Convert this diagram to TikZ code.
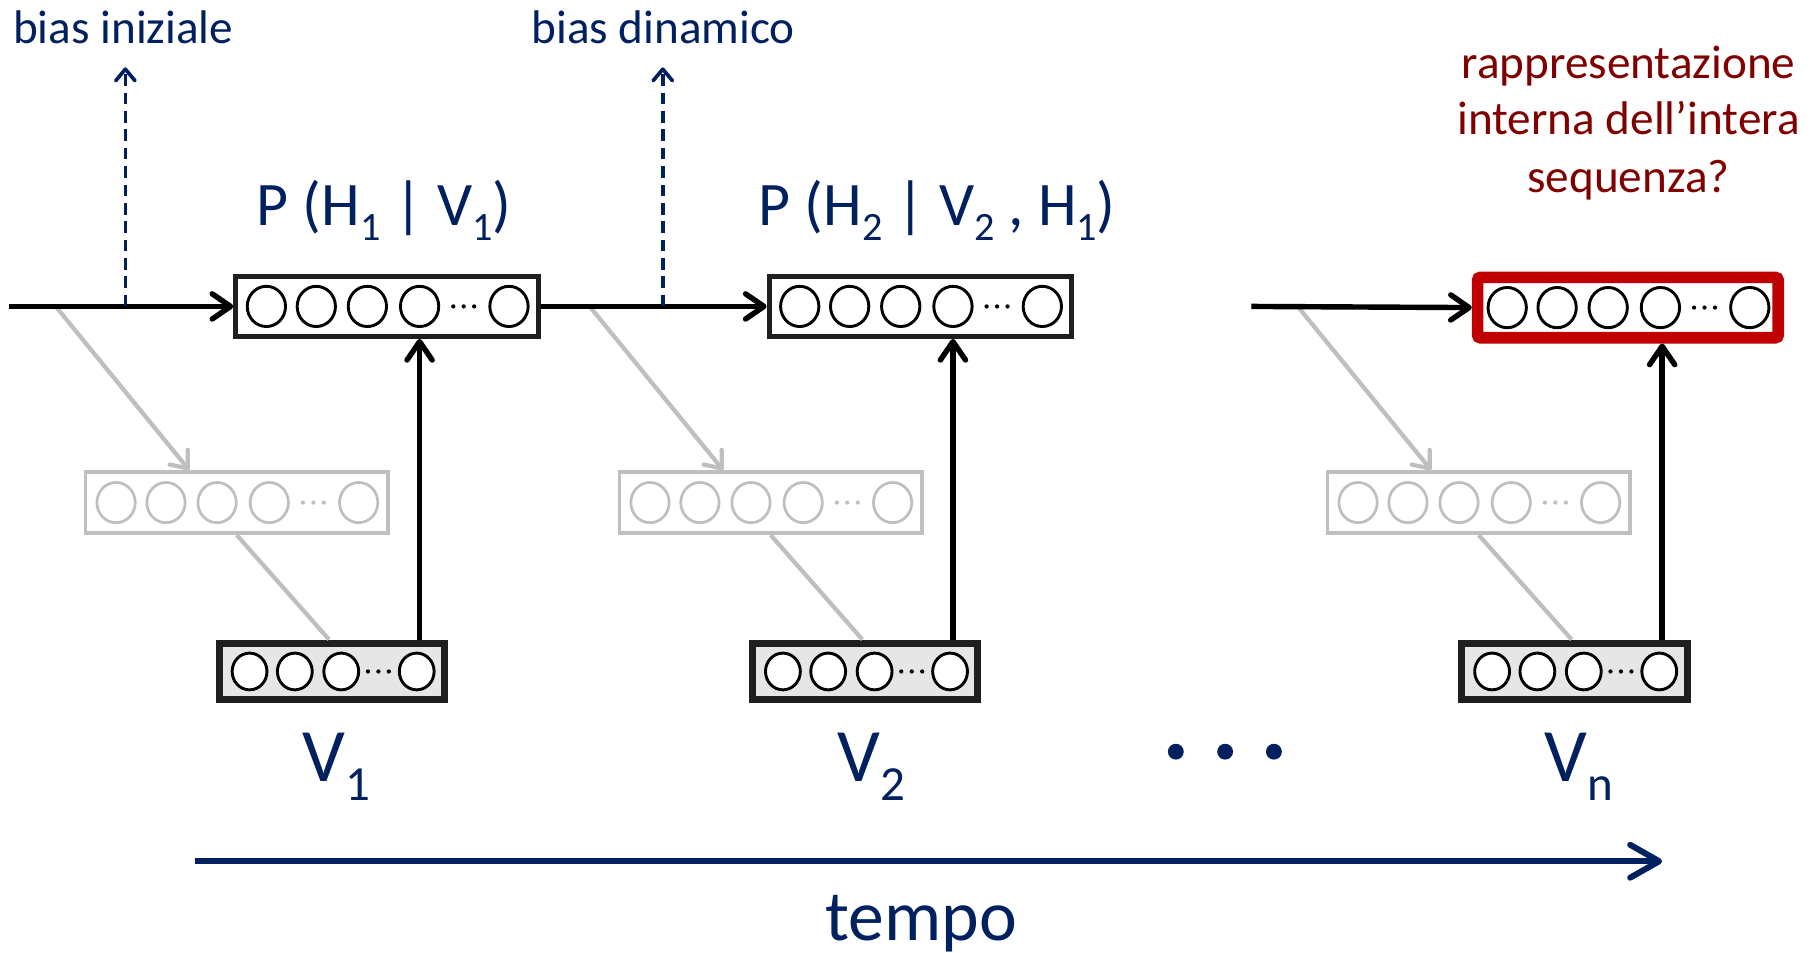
\documentclass[tikz,border=0pt]{standalone}
\usepackage{fontspec}
\setmainfont{Carlito}
\usetikzlibrary{arrows.meta,calc}
\definecolor{navy}{HTML}{002060}
\definecolor{dred}{HTML}{800000}
\definecolor{boxred}{HTML}{C00000}
\definecolor{lgray}{HTML}{BFBFBF}
\definecolor{vfill}{HTML}{E6E6E6}
\definecolor{dark}{HTML}{1F1F1F}
\newcommand\lsub[1]{\raisebox{-0.25em}{\scalebox{0.65}{#1}}}
\begin{document}
\begin{tikzpicture}[x=0.6pt,y=-0.6pt,
  hbox/.style={draw=dark,line width=2.6pt,fill=white,minimum width=156.4pt,minimum height=31pt,inner sep=0pt},
  gbox/.style={draw=lgray,line width=2pt,fill=white,minimum width=156.4pt,minimum height=31.6pt,inner sep=0pt},
  vbox/.style={draw=dark,line width=3.6pt,fill=vfill,minimum width=116.4pt,minimum height=29.4pt,inner sep=0pt},
  redbox/.style={draw=boxred,line width=6pt,fill=white,rounded corners=1.5pt,minimum width=155.4pt,minimum height=31.2pt,inner sep=0pt},
  hcirc/.style={draw=black,line width=1.5pt,fill=white},
  gcirc/.style={draw=lgray,line width=1.4pt,fill=white},
  blk/.style={draw=black,line width=2.8pt,-{Straight Barb[length=9.5pt,width=13pt,round]}},
  grayarr/.style={draw=lgray,line width=2.2pt,-{Straight Barb[length=7.5pt,width=12pt,round]}},
  grayln/.style={draw=lgray,line width=2.2pt},
  dasharr/.style={draw=navy,line width=1.9pt,dash pattern=on 6pt off 3.5pt,-{Straight Barb[length=6pt,width=10pt,round]}},
  timearr/.style={draw=navy,line width=3.1pt,-{Straight Barb[length=15pt,width=17pt,round]}},
  lbl/.style={text=navy,inner sep=0pt,font=\fontsize{24.4}{29}\selectfont},
  plbl/.style={text=navy,inner sep=0pt,font=\fontsize{32}{38}\selectfont},
  rlbl/.style={text=dred,inner sep=0pt,font=\fontsize{24.4}{29}\selectfont},
  vlbl/.style={text=navy,inner sep=0pt,font=\fontsize{39}{46}\selectfont},
  tlbl/.style={text=navy,inner sep=0pt,font=\fontsize{37}{44}\selectfont}
]
\useasboundingbox (0,0) rectangle (1568,821);

% layer boxes
\node[hbox] (h1) at (333.5,264) {};
\node[hbox] (h2) at (793,264) {};
\node[redbox] (hn) at (1402.5,265) {};
\node[gbox] (g1) at (204,433) {};
\node[gbox] (g2) at (664,433) {};
\node[gbox] (g3) at (1274,433) {};
\node[vbox] (v1) at (286,578.5) {};
\node[vbox] (v2) at (745.5,578.5) {};
\node[vbox] (vn) at (1356.5,578.5) {};

% units
\foreach \n in {h1,h2,hn}{
  \foreach \dx in {-104,-61,-17,28,105}
    \draw[hcirc] ([xshift=\dx*0.6pt]\n.center) ellipse [x radius=9.9pt,y radius=10.4pt];
  \foreach \dx in {57,66,75}
    \fill[black] ([xshift=\dx*0.6pt]\n.center) circle [radius=1.1pt];
}
\foreach \n in {g1,g2,g3}{
  \foreach \dx in {-104,-61,-17,28,105}
    \draw[gcirc] ([xshift=\dx*0.6pt]\n.center) ellipse [x radius=9.9pt,y radius=10.4pt];
  \foreach \dx in {57,66,75}
    \fill[lgray] ([xshift=\dx*0.6pt]\n.center) circle [radius=1.1pt];
}
\foreach \n in {v1,v2,vn}{
  \foreach \dx in {-71,-32,8,73}
    \draw[hcirc] ([xshift=\dx*0.6pt]\n.center) ellipse [x radius=9pt,y radius=9.5pt];
  \foreach \dx in {31,40,49}
    \fill[black] ([xshift=\dx*0.6pt]\n.center) circle [radius=1.1pt];
}

% free ends
\coordinate (s1) at (8,264);
\coordinate (ga1) at (48,264);
\coordinate (db1) at (108,264);
\coordinate (dt1) at (108,58);
\coordinate (ga2) at (508,264);
\coordinate (db2) at (571,264);
\coordinate (dt2) at (571,58);
\coordinate (s3) at (1078,264);
\coordinate (ga3) at (1118,264);
\coordinate (ts) at (168,742);
\coordinate (te) at (1432,742);

% gray connectors
\draw[grayarr] (ga1) -- ([xshift=-24.6pt]g1.north);
\draw[grayarr] (ga2) -- ([xshift=-24.6pt]g2.north);
\draw[grayarr] (ga3) -- ([xshift=-24.6pt]g3.north);
\draw[grayln] (g1.south) -- ([xshift=-1.5pt]v1.north);
\draw[grayln] (g2.south) -- ([xshift=-1.5pt]v2.north);
\draw[grayln] (g3.south) -- ([xshift=-1.5pt]vn.north);

% black connectors
\draw[blk] (s1) -- (h1.west);
\draw[blk] (h1.east) -- (h2.west);
\draw[blk] (s3) -- (hn.west);
\draw[blk] ([xshift=45.3pt]v1.north) -- ([xshift=45.3pt]v1.north |- h1.south);
\draw[blk] ([xshift=45.3pt]v2.north) -- ([xshift=45.3pt]v2.north |- h2.south);
\draw[blk] ([xshift=45.3pt]vn.north) -- ([xshift=45.3pt]vn.north |- hn.south);

% dashed bias arrows
\draw[dasharr] (db1) -- (dt1);
\draw[dasharr] (db2) -- (dt2);

% time arrow
\draw[timearr] (ts) -- (te);

% texts
\node[lbl,anchor=base west] (bi) at (11,37.5) {bias iniziale};
\node[lbl,anchor=base west] (bd) at (457.5,37.5) {bias dinamico};
\node[plbl,anchor=base] (p1) at (331,194) {P (H\lsub{1} | V\lsub{1})};
\node[plbl,anchor=base] (p2) at (807.5,194) {P (H\lsub{2} | V\lsub{2} , H\lsub{1})};
\node[rlbl,anchor=base] (r1) at (1403,67.5) {rappresentazione};
\node[rlbl,anchor=base] (r2) at (1403,116.3) {interna dell’intera};
\node[rlbl,anchor=base] (r3) at (1403,166) {sequenza?};
\node[vlbl,anchor=base] (lv1) at (290,673.5) {V\lsub{1}};
\node[vlbl,anchor=base] (lv2) at (751,673.5) {V\lsub{2}};
\node[vlbl,anchor=base] (lvn) at (1360,673.5) {V\lsub{n}};
\node[tlbl,anchor=base] (tempo) at (793.5,810.5) {tempo};

% ellipsis dots
\foreach \x in {1013,1055.5,1097.5}
  \fill[navy] (\x,647.6) circle [radius=4.1pt];
\end{tikzpicture}
\end{document}
